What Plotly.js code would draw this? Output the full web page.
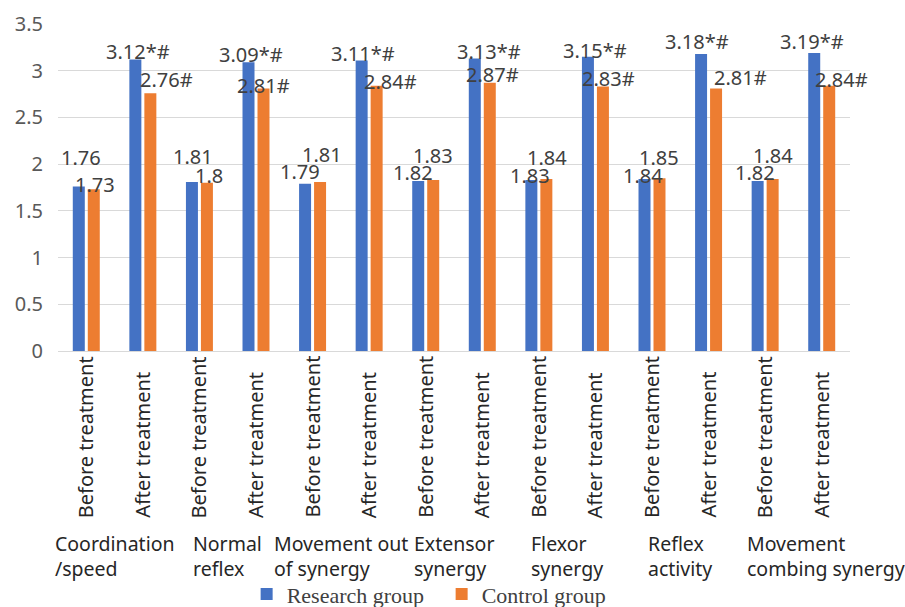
<!DOCTYPE html>
<html>
<head>
<meta charset="utf-8">
<script src="https://cdn.plot.ly/plotly-3.0.1.min.js"></script>
<style>html,body{margin:0;padding:0;background:#fff;}#chart{width:905px;height:607px;}</style>
</head>
<body>
<div id="chart"></div>
<script>
// ---- data ----
var groups = ["Coordination<br>/speed", "Normal<br>reflex", "Movement out<br>of synergy", "Extensor<br>synergy", "Flexor<br>synergy", "Reflex<br>activity", "Movement<br>combing synergy"];
var phases = ["Before treatment", "After treatment"];
var research = [1.76, 3.12, 1.81, 3.09, 1.79, 3.11, 1.82, 3.13, 1.83, 3.15, 1.84, 3.18, 1.82, 3.19];
var control  = [1.73, 2.76, 1.8, 2.81, 1.81, 2.84, 1.83, 2.87, 1.84, 2.83, 1.85, 2.81, 1.84, 2.84];
var researchMarks = ["", "*#", "", "*#", "", "*#", "", "*#", "", "*#", "", "*#", "", "*#"];
var controlMarks  = ["", "#", "", "#", "", "#", "", "#", "", "#", "", "#", "", "#"];
var seriesNames = ["Research group", "Control group"];

// ---- label placement (pixel shifts, style only) ----
var researchShift = [[-5,29],[-5,8],[-6,25],[-5,8],[-13,12],[-6,7],[-13,8],[7,7],[-9,5],[0,6],[-9,4],[-12,12],[-10,8],[-10,11]];
var controlShift  = [[9,5],[24,14],[10,7],[7,3],[9,27],[21,4],[7,25],[10,8],[8,22],[13,8],[7,21],[32,11],[8,24],[20,6]];
var groupShift = [0, 0, 0, 0, 0, 0, 33];

var idx = research.map(function(_, i){ return i; });
var phaseLabels = idx.map(function(i){ return phases[i % 2]; });

var sans = "Noto Sans, Arial, sans-serif";
var traces = [
  {type: "bar", name: seriesNames[0], x: idx, y: research, marker: {color: "#4472C4"}, hoverinfo: "y"},
  {type: "bar", name: seriesNames[1], x: idx, y: control, marker: {color: "#ED7D31"}, hoverinfo: "y"}
];

var ann = [];
idx.forEach(function(i){
  ann.push({x: i, y: research[i], xref: "x", yref: "y", text: research[i] + researchMarks[i], showarrow: false,
    xanchor: "center", yanchor: "middle", xshift: researchShift[i][0], yshift: researchShift[i][1],
    font: {family: sans, size: 20, color: "#404040"}});
  ann.push({x: i, y: control[i], xref: "x", yref: "y", text: control[i] + controlMarks[i], showarrow: false,
    xanchor: "center", yanchor: "middle", xshift: controlShift[i][0], yshift: controlShift[i][1],
    font: {family: sans, size: 20, color: "#404040"}});
  ann.push({x: i, y: -0.5168, xref: "x", yref: "paper", text: phaseLabels[i], showarrow: false, textangle: -90,
    xanchor: "center", yanchor: "bottom", font: {family: sans, size: 20, color: "#262626"}});
});
groups.forEach(function(g, k){
  ann.push({x: 2*k + 0.5, y: -0.628, xref: "x", yref: "paper", text: g, showarrow: false, align: "left",
    xanchor: "center", yanchor: "middle", xshift: groupShift[k], font: {family: sans, size: 19.5, color: "#262626"}});
});

var layout = {
  width: 905, height: 607,
  margin: {l: 58, r: 55, t: 24, b: 256, autoexpand: false},
  paper_bgcolor: "#fff", plot_bgcolor: "#fff",
  barmode: "group", bargap: 0.47, bargroupgap: 0.2,
  showlegend: true,
  legend: {orientation: "h", xref: "container", yref: "container", x: 0.488, xanchor: "center", y: 0.021, yanchor: "middle",
    font: {family: "Liberation Serif, Times New Roman, serif", size: 22, color: "#404040"}, itemwidth: 30,
    entrywidthmode: "pixels", entrywidth: 150},
  xaxis: {range: [-0.5, 13.5], showticklabels: false, showgrid: false, zeroline: false,
    showline: true, linecolor: "#d9d9d9", linewidth: 1, ticks: ""},
  yaxis: {range: [0, 3.5], dtick: 0.5, tick0: 0, showgrid: true, gridcolor: "#d9d9d9", gridwidth: 1,
    zeroline: false, showline: false, ticks: "", ticklabelstandoff: 14,
    tickfont: {family: sans, size: 20, color: "#595959"}},
  annotations: ann
};
Plotly.newPlot("chart", traces, layout, {displayModeBar: false, staticPlot: true});
</script>
</body>
</html>
